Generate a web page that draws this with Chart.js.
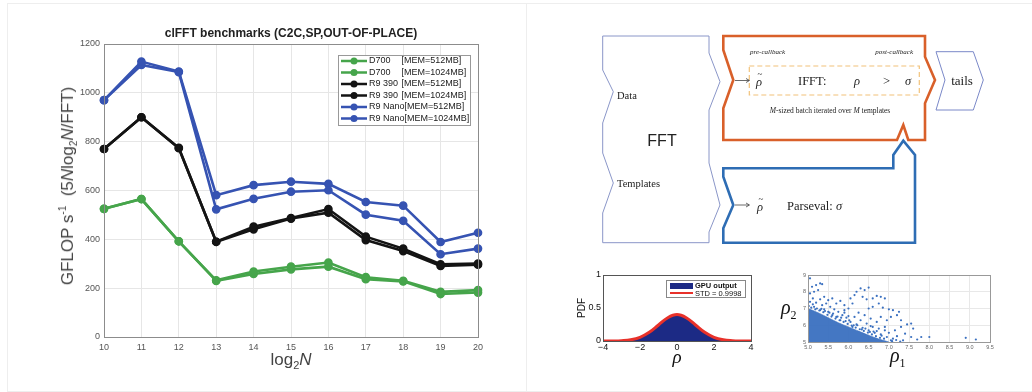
<!DOCTYPE html>
<html>
<head>
<meta charset="utf-8">
<script src="https://cdn.jsdelivr.net/npm/chart.js@4.4.1/dist/chart.umd.min.js"></script>
<style>
  body { margin: 0; background: #fff; width: 1032px; height: 392px; position: relative; overflow: hidden; font-family: "Liberation Sans", Arial, sans-serif; }
  .panel { position: absolute; border: 1px solid #eeeeee; box-sizing: border-box; }
  canvas { position: absolute; }
  .lbl { position: absolute; white-space: nowrap; color: #333; }
  .serif { font-family: "Liberation Serif", "DejaVu Serif", serif; }
  #diagram { position: absolute; left: 0; top: 0; }
</style>
</head>
<body>
<div class="panel" style="left:7px;top:3px;width:520px;height:389px;"></div>
<div class="panel" style="left:526px;top:3px;width:510px;height:389px;"></div>

<canvas id="bench" width="518" height="386" style="left:8px;top:4px;"></canvas>
<div class="lbl" style="left:291px;top:26px;transform:translateX(-50%);font-weight:bold;font-size:12px;color:#222;">clFFT benchmarks (C2C,SP,OUT-OF-PLACE)</div>
<div class="lbl" style="left:68px;top:186px;transform:translate(-50%,-50%) rotate(-90deg);font-size:17px;color:#444;">GFLOP s<sup style="font-size:10px">-1</sup>&nbsp; (5<i>N</i>log<sub style="font-size:10px">2</sub><i>N</i>/FFT)</div>
<div class="lbl" style="left:291px;top:350px;transform:translateX(-50%);font-size:17px;color:#444;">log<sub style="font-size:11px">2</sub><i>N</i></div>

<svg id="diagram" width="1032" height="392" xmlns="http://www.w3.org/2000/svg">
  <path d="M602.7,36 L709,36 L709,53 L720,81.7 L709,110 L709,163 L720,205 L709,232 L709,242.7 L602.7,242.7 L602.7,213 L613.3,183 L602.7,153 L602.7,123 L613.3,91.7 L602.7,70 Z" fill="none" stroke="#8a96c8" stroke-width="1"/>
  <path d="M723.3,36 L925,36 L925,56.7 L935,80 L925,103.3 L925,140 L908.3,140 L903.3,125 L897,140 L723.3,140 L723.3,108.3 L733.3,80 L723.3,50 Z" fill="none" stroke="#d9602a" stroke-width="2.6" stroke-linejoin="miter"/>
  <path d="M723.3,168.3 L893.3,168.3 L893.3,155 L903.3,140.7 L915,155 L915,242.7 L723.3,242.7 L723.3,228.3 L733.3,205 L723.3,176.7 Z" fill="none" stroke="#2e6db4" stroke-width="2.6"/>
  <path d="M936,51.7 L973.3,51.7 L983.3,80 L973.3,110 L936,110 L945,80 Z" fill="none" stroke="#7a88c8" stroke-width="1"/>
  <rect x="749.3" y="66" width="170" height="29" fill="none" stroke="#f2c27a" stroke-width="1.2" stroke-dasharray="5,3"/>
  <line x1="735" y1="80.5" x2="749" y2="80.5" stroke="#444" stroke-width="0.8"/>
  <path d="M746,78.5 L749.5,80.5 L746,82.5" fill="none" stroke="#444" stroke-width="0.8"/>
  <line x1="735" y1="205" x2="749" y2="205" stroke="#444" stroke-width="0.8"/>
  <path d="M746,203 L749.5,205 L746,207" fill="none" stroke="#444" stroke-width="0.8"/>
  <g font-family="Liberation Serif, DejaVu Serif, serif" fill="#222">
    <text x="617" y="99" font-size="10.5">Data</text>
    <text x="617" y="187" font-size="10.5">Templates</text>
    <text x="750" y="54" font-size="7" font-style="italic">pre-callback</text>
    <text x="913" y="54" font-size="7" font-style="italic" text-anchor="end">post-callback</text>
    <text x="756" y="86" font-size="12.5" font-style="italic">ρ</text>
    <text x="757.5" y="77" font-size="9">~</text>
    <text x="798" y="85" font-size="12.5">IFFT:</text>
    <text x="854" y="85" font-size="12.5" font-style="italic">ρ</text>
    <text x="883" y="85" font-size="12.5">&gt;</text>
    <text x="905" y="85" font-size="12.5" font-style="italic">σ</text>
    <text x="830" y="113" font-size="7.5" text-anchor="middle"><tspan font-style="italic">M</tspan>-sized batch iterated over <tspan font-style="italic">M</tspan> templates</text>
    <text x="962" y="84.5" font-size="13" text-anchor="middle">tails</text>
    <text x="757" y="210.5" font-size="12.5" font-style="italic">ρ</text>
    <text x="758.5" y="201.5" font-size="9">~</text>
    <text x="787" y="209.5" font-size="12.5">Parseval: <tspan font-style="italic">σ</tspan></text>
  </g>
  <text x="662" y="146" font-size="16" font-family="Liberation Sans, Arial, sans-serif" fill="#222" text-anchor="middle">FFT</text>
</svg>

<canvas id="pdf" width="195" height="100" style="left:565px;top:265px;"></canvas>
<div class="lbl" style="left:581px;top:308px;transform:translate(-50%,-50%) rotate(-90deg);font-size:10px;color:#111;">PDF</div>
<div class="lbl serif" style="left:677px;top:346px;transform:translateX(-50%);font-size:19px;font-style:italic;color:#111;">ρ</div>
<div style="position:absolute;left:666px;top:280px;width:80px;height:18px;border:1px solid #888;background:#fff;box-sizing:border-box;">
  <div style="position:absolute;left:3px;top:2px;width:23px;height:6px;background:#1c2a85;"></div>
  <div class="lbl" style="left:28px;top:0px;font-size:7.5px;font-weight:bold;color:#111;">GPU output</div>
  <div style="position:absolute;left:3px;top:11px;width:23px;height:2px;background:#e8312a;"></div>
  <div class="lbl" style="left:28px;top:8px;font-size:7.5px;color:#111;">STD = 0.9998</div>
</div>

<canvas id="scat" width="210" height="95" style="left:790px;top:265px;"></canvas>
<div class="lbl serif" style="left:781px;top:296px;font-size:20px;font-style:italic;color:#111;">ρ<sub style="font-size:12px;font-style:normal">2</sub></div>
<div class="lbl serif" style="left:890px;top:344px;font-size:20px;font-style:italic;color:#111;">ρ<sub style="font-size:12px;font-style:normal">1</sub></div>

<script>
// ---- main benchmark data ----
const log2N = ['10', '11', '12', '13', '14', '15', '16', '17', '18', '19', '20'];
const d700_512 = [525, 565, 392, 232, 268, 288, 305, 245, 230, 185, 192];
const d700_1024 = [525, 565, 392, 230, 258, 277, 288, 237, 228, 176, 182];
const r9390_512 = [770, 900, 775, 390, 452, 487, 524, 411, 362, 298, 301];
const r9390_1024 = [770, 900, 773, 390, 441, 485, 509, 397, 352, 291, 296];
const r9nano_512 = [970, 1128, 1087, 581, 622, 636, 627, 553, 538, 389, 427];
const r9nano_1024 = [970, 1114, 1085, 523, 566, 595, 601, 501, 476, 339, 362];
const gflopTicks = [0, 200, 400, 600, 800, 1000, 1200];

// ---- PDF panel ----
const pdfX = [-4, -3.5, -3, -2.5, -2, -1.5, -1, -0.5, 0, 0.5, 1, 1.5, 2, 2.5, 3, 3.5, 4];
const pdfGpu = [0, 0.001, 0.004, 0.017, 0.053, 0.128, 0.24, 0.35, 0.395, 0.35, 0.24, 0.128, 0.053, 0.017, 0.004, 0.001, 0];
const pdfFit = [0, 0.001, 0.005, 0.018, 0.055, 0.131, 0.243, 0.353, 0.4, 0.353, 0.243, 0.131, 0.055, 0.018, 0.005, 0.001, 0];

// ---- scatter panel ----
const denseX = [5, 5.25, 5.5, 5.75, 6, 6.25, 6.5, 6.75, 7.0];
const denseY = [7.0, 6.75, 6.45, 6.15, 5.9, 5.65, 5.4, 5.18, 5.0];
const scatX = [5.05, 5.1, 5.15, 5.2, 5.3, 5.35, 5.25, 5.05, 5.4, 5.12, 5.3, 5.5, 5.6, 5.45, 5.2, 5.05, 5.35, 5.55, 5.7, 5.8,
  5.9, 5.65, 5.75, 5.9, 6.0, 6.1, 6.05, 6.2, 6.3, 6.4, 6.5, 6.15, 6.35, 6.45, 6.6, 6.7, 6.8, 6.9, 6.75, 6.6,
  6.5, 6.85, 7.0, 7.1, 7.2, 7.3, 7.25, 7.05, 6.95, 6.8, 6.7, 6.55, 6.4, 6.25, 6.15, 6.3, 6.45, 6.6, 6.75, 6.9,
  7.0, 7.15, 7.3, 7.45, 7.55, 7.4, 7.2, 7.1, 7.35, 7.55, 7.8, 7.7, 8.0, 8.9, 9.15, 6.05, 5.95, 5.85, 6.2, 6.35,
  6.5, 6.65, 6.8, 6.95, 7.05, 5.5, 5.4, 5.6, 5.3, 5.15, 5.0, 5.7, 6.9, 7.6, 6.1, 5.8, 6.0, 5.9, 6.55, 6.7,
  5.02, 5.08, 5.18, 5.28, 5.38, 5.48, 5.58, 5.68, 5.78, 5.88, 5.98, 6.08, 6.18, 6.28, 6.38, 6.48, 6.58, 6.68, 6.78, 6.88,
  5.12, 5.22, 5.42, 5.62, 5.82, 6.02, 6.22, 6.42, 6.62, 6.82, 5.33, 5.53, 5.73, 5.93, 6.13, 6.33, 6.53, 7.08, 7.18, 7.28];
const scatY = [8.8, 8.3, 8.0, 8.4, 8.5, 8.45, 8.1, 7.9, 7.7, 7.6, 7.55, 7.5, 7.6, 7.3, 7.35, 7.4, 7.2, 7.1, 7.3, 7.45,
  7.2, 6.95, 6.8, 6.9, 7.0, 7.3, 7.6, 8.0, 8.2, 8.1, 8.25, 7.8, 7.7, 7.55, 7.6, 7.75, 7.7, 7.6, 7.3, 7.1,
  7.0, 7.05, 6.95, 6.9, 6.6, 6.3, 6.8, 6.5, 6.3, 6.5, 6.2, 6.4, 6.6, 6.75, 6.5, 6.3, 6.1, 5.9, 5.8, 5.7,
  5.55, 5.7, 5.9, 6.05, 6.1, 5.5, 5.35, 5.2, 5.1, 5.3, 5.3, 5.15, 5.3, 5.25, 5.15, 6.2, 6.45, 6.6, 6.05, 5.85,
  5.7, 5.55, 5.45, 5.3, 5.1, 6.8, 6.95, 6.6, 6.9, 7.1, 7.2, 6.5, 5.9, 5.8, 5.9, 6.3, 6.55, 6.75, 5.95, 5.65,
  7.15, 7.05, 6.95, 6.88, 6.78, 6.62, 6.52, 6.4, 6.3, 6.2, 6.08, 5.98, 5.86, 5.76, 5.66, 5.56, 5.45, 5.35, 5.25, 5.2,
  7.25, 7.0, 6.85, 6.7, 6.45, 6.3, 6.0, 5.8, 5.62, 5.38, 6.98, 6.75, 6.52, 6.25, 6.0, 5.75, 5.6, 5.05, 5.12, 5.02];

const GREEN = '#46a54b', BLACK = '#141414', BLUE = '#3653b2';

// box around the plot area, like matlab axes
const frame = {
  id: 'frame',
  afterDraw(chart, args, opts) {
    const a = chart.chartArea, ctx = chart.ctx;
    ctx.save();
    ctx.strokeStyle = opts.color || '#888';
    ctx.lineWidth = 1;
    ctx.strokeRect(Math.round(a.left) + 0.5, Math.round(a.top) + 0.5, Math.round(a.right - a.left), Math.round(a.bottom - a.top));
    ctx.restore();
  }
};

// legend drawn inside the chart area (top right)
const insideLegend = {
  id: 'insideLegend',
  afterDraw(chart) {
    const ctx = chart.ctx, a = chart.chartArea;
    const x0 = a.right - 140, y0 = a.top + 11, w = 132, h = 70;
    ctx.save();
    ctx.fillStyle = '#fff';
    ctx.fillRect(x0, y0, w, h);
    ctx.strokeStyle = '#999';
    ctx.lineWidth = 1;
    ctx.strokeRect(x0 + 0.5, y0 + 0.5, w, h);
    ctx.font = '9px "Liberation Sans", Arial, sans-serif';
    ctx.textBaseline = 'middle';
    chart.data.datasets.forEach((ds, i) => {
      const y = y0 + 6 + i * 11.5;
      ctx.strokeStyle = ds.borderColor;
      ctx.lineWidth = 2.5;
      ctx.beginPath();
      ctx.moveTo(x0 + 3, y);
      ctx.lineTo(x0 + 29, y);
      ctx.stroke();
      ctx.fillStyle = ds.borderColor;
      ctx.beginPath();
      ctx.arc(x0 + 16, y, 3.5, 0, Math.PI * 2);
      ctx.fill();
      ctx.fillStyle = '#222';
      ctx.fillText(ds.name, x0 + 31, y);
      const nw = ctx.measureText(ds.name).width;
      ctx.fillText(ds.mem, Math.max(x0 + 63.5, x0 + 31 + nw), y);
    });
    ctx.restore();
  }
};

function series(name, mem, color, values) {
  return {
    label: name + ' ' + mem, name: name, mem: mem,
    data: values,
    borderColor: color, backgroundColor: color,
    borderWidth: 2.6,
    pointRadius: 3.6, pointBorderWidth: 1.5,
    pointBackgroundColor: color, pointBorderColor: color,
    tension: 0
  };
}

new Chart(document.getElementById('bench'), {
  type: 'line',
  data: {
    labels: log2N,
    datasets: [
      series('D700', '[MEM=512MB]', GREEN, d700_512),
      series('D700', '[MEM=1024MB]', GREEN, d700_1024),
      series('R9 390', '[MEM=512MB]', BLACK, r9390_512),
      series('R9 390', '[MEM=1024MB]', BLACK, r9390_1024),
      series('R9 Nano', '[MEM=512MB]', BLUE, r9nano_512),
      series('R9 Nano', '[MEM=1024MB]', BLUE, r9nano_1024)
    ]
  },
  options: {
    responsive: false, animation: false, devicePixelRatio: 1,
    layout: { padding: { left: 66, right: 48, top: 40, bottom: 33 } },
    plugins: { legend: { display: false }, tooltip: { enabled: false }, frame: { color: '#8c8c8c' } },
    scales: {
      x: {
        offset: false,
        afterFit: s => { s.height = 20; },
        grid: { color: '#e6e6e6', drawTicks: false },
        border: { display: false },
        ticks: { color: '#555', font: { size: 9, family: '"Liberation Sans", Arial' }, padding: 5, maxRotation: 0, autoSkip: false }
      },
      y: {
        min: 0, max: 1200,
        afterFit: s => { s.width = 30; },
        afterBuildTicks: s => { s.ticks = gflopTicks.map(v => ({ value: v })); },
        grid: { color: '#e6e6e6', drawTicks: false },
        border: { display: false },
        ticks: { color: '#555', font: { size: 9, family: '"Liberation Sans", Arial' }, padding: 4, callback: v => String(v) }
      }
    }
  },
  plugins: [frame, insideLegend]
});

const tinyFont = { size: 9, family: '"Liberation Sans", Arial' };
new Chart(document.getElementById('pdf'), {
  type: 'line',
  data: {
    datasets: [
      {
        label: 'STD = 0.9998', data: pdfX.map((x, i) => ({ x: x, y: pdfFit[i] })),
        borderColor: '#e8312a', borderWidth: 3, pointRadius: 0, fill: false, tension: 0.4, order: 1
      },
      {
        label: 'GPU output', data: pdfX.map((x, i) => ({ x: x, y: pdfGpu[i] })),
        borderColor: '#1c2a85', backgroundColor: '#1c2a85', borderWidth: 1, pointRadius: 0, fill: 'origin', tension: 0.4, order: 2
      }
    ]
  },
  options: {
    responsive: false, animation: false, devicePixelRatio: 1,
    layout: { padding: { left: 14, right: 9, top: 10, bottom: 6 } },
    plugins: { legend: { display: false }, tooltip: { enabled: false }, frame: { color: '#555' } },
    scales: {
      x: {
        type: 'linear', min: -4, max: 4,
        afterFit: s => { s.height = 18; },
        grid: { display: false, drawTicks: false }, border: { display: false },
        ticks: { stepSize: 2, color: '#111', font: tinyFont, padding: 1, maxRotation: 0, autoSkip: false, callback: v => String(v).replace('-', '\u2212') }
      },
      y: {
        min: 0, max: 1,
        afterFit: s => { s.width = 24; },
        grid: { display: false, drawTicks: false }, border: { display: false },
        ticks: { stepSize: 0.5, color: '#111', font: tinyFont, padding: 2, callback: v => String(v) }
      }
    }
  },
  plugins: [frame]
});

const scatFont = { size: 5.5, family: '"Liberation Sans", Arial' };
new Chart(document.getElementById('scat'), {
  type: 'scatter',
  data: {
    datasets: [
      {
        type: 'line', label: 'dense', data: denseX.map((x, i) => ({ x: x, y: denseY[i] })),
        borderColor: 'rgba(58,112,192,0.6)', borderWidth: 1, backgroundColor: 'rgba(58,112,192,0.95)',
        fill: 'start', pointRadius: 0, tension: 0.3
      },
      {
        label: 'pairs', data: scatX.map((x, i) => ({ x: x, y: scatY[i] })),
        backgroundColor: '#3a70c0', borderWidth: 0, pointRadius: 1.1
      }
    ]
  },
  options: {
    responsive: false, animation: false, devicePixelRatio: 1,
    layout: { padding: { left: 10, right: 10, top: 10, bottom: 8 } },
    plugins: { legend: { display: false }, tooltip: { enabled: false }, frame: { color: '#999' } },
    scales: {
      x: {
        min: 5, max: 9.5,
        afterFit: s => { s.height = 10; },
        grid: { color: '#e8e8e8', drawTicks: false }, border: { display: false },
        ticks: { stepSize: 0.5, color: '#666', font: scatFont, padding: 2, autoSkip: false, maxRotation: 0 }
      },
      y: {
        min: 5, max: 9,
        afterFit: s => { s.width = 8; },
        grid: { color: '#e8e8e8', drawTicks: false }, border: { display: false },
        ticks: { stepSize: 1, color: '#666', font: scatFont, padding: 2 }
      }
    }
  },
  plugins: [frame]
});
</script>
</body>
</html>
